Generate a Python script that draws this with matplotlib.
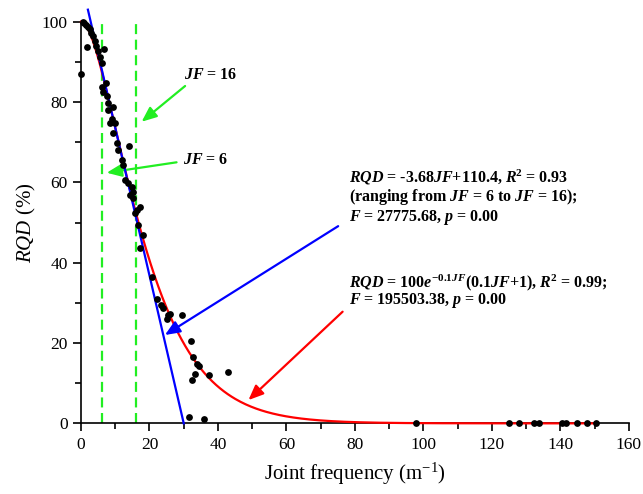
import matplotlib
matplotlib.use("Agg")
import matplotlib.pyplot as plt
import numpy as np

plt.rcParams['font.family'] = ['Liberation Serif', 'DejaVu Serif']
plt.rcParams['mathtext.fontset'] = 'custom'
plt.rcParams['mathtext.rm'] = 'Liberation Serif'
plt.rcParams['mathtext.it'] = 'Liberation Serif:italic'
plt.rcParams['mathtext.bf'] = 'Liberation Serif:bold'
plt.rcParams['mathtext.bfit'] = 'Liberation Serif:italic:bold'

# measured points (joint frequency, RQD)
jf = [0.0, 0.5, 1.0, 1.5, 2.0, 2.5, 3.0, 3.5, 4.0, 4.5, 5.0, 5.5, 6.0,
      1.7, 6.8, 6.2, 7.3, 6.5, 7.5, 8.0, 9.4, 7.8, 9.0, 10.0,
      8.5, 9.4, 10.4, 14.1, 10.9, 11.9, 12.4, 12.9, 13.8, 14.8, 15.3,
      14.3, 15.1, 17.3, 16.3, 15.8, 16.7, 18.2, 17.3,
      20.6, 22.1, 23.5, 24.0, 25.5, 26.0, 25.0, 29.6, 32.0, 32.6, 34.0,
      34.6, 33.3, 32.3, 37.5, 43.0, 31.6, 35.9,
      97.7, 124.9, 127.8, 132.2, 133.7, 140.5, 141.5, 144.9, 147.8, 150.3]
rqd = [87.0, 100.0, 99.8, 99.3, 98.8, 98.2, 97.3, 96.4, 95.3, 94.0, 92.6, 91.2, 89.8,
       93.6, 93.1, 83.7, 84.8, 82.6, 81.5, 79.7, 78.8, 78.0, 75.9, 74.7,
       74.7, 72.2, 69.7, 69.1, 68.0, 65.6, 64.3, 60.6, 59.8, 58.9, 57.7,
       56.8, 56.0, 53.9, 53.1, 52.3, 49.4, 46.9, 43.7,
       36.5, 30.9, 29.5, 28.6, 27.0, 27.2, 26.1, 27.1, 20.5, 16.4, 14.7,
       14.3, 12.4, 10.8, 12.0, 12.9, 1.6, 1.1,
       0.0, 0.0, 0.0, 0.0, 0.0, 0.0, 0.0, 0.0, 0.0, 0.0]

# fitted models shown in the chart
lin_slope, lin_icpt = -3.68, 110.4
exp_a, exp_b = 100.0, 0.1
jf_lines = [6, 16]

fig = plt.figure(figsize=(6.43, 4.94), dpi=100)
ax = fig.add_axes([0.126, 0.143, 0.852, 0.813])

x_fit = np.linspace(0, 150, 400)
ax.plot(x_fit, exp_a * np.exp(-exp_b * x_fit) * (exp_b * x_fit + 1),
        color='red', lw=1.6, zorder=3, clip_on=False)
x_lin = np.array([(103 - lin_icpt) / lin_slope, -lin_icpt / lin_slope])
ax.plot(x_lin, lin_slope * x_lin + lin_icpt, color='blue', lw=1.6, zorder=4, clip_on=False)

green = '#22ee22'
for v in jf_lines:
    ax.plot([v, v], [0, 100], color=green, lw=1.6, ls=(0, (4.5, 2.5)), zorder=2)

ax.scatter(jf, rqd, s=24, color='black', zorder=5, clip_on=False, linewidths=0)

ax.set_xlim(0, 160)
ax.set_ylim(0, 100)
ax.spines['top'].set_visible(False)
ax.spines['right'].set_visible(False)
for s in ['left', 'bottom']:
    ax.spines[s].set_linewidth(1.2)
ax.set_xticks(np.arange(0, 161, 20))
ax.set_xticks(np.arange(10, 160, 10), minor=True)
ax.set_yticks(np.arange(0, 101, 20))
ax.set_yticks(np.arange(10, 100, 20), minor=True)
ax.tick_params(which='major', length=6, width=1.2, labelsize=12.5, direction='out')
ax.tick_params(which='minor', length=4, width=1.2, direction='out')

ax.set_xlabel('Joint frequency (m$^{\\mathregular{-1}}$)', fontsize=15, labelpad=6)
ax.set_ylabel('$\\mathit{RQD}$ (%)', fontsize=15, labelpad=3)

arr = dict(arrowstyle='-|>,head_length=0.9,head_width=0.38', lw=1.6, shrinkA=0, shrinkB=0)
ax.annotate('', xy=(17.7, 75.1), xytext=(30.4, 84.0), arrowprops=dict(arr, color=green))
ax.annotate('', xy=(7.5, 62.4), xytext=(27.9, 65.0), arrowprops=dict(arr, color=green))
ax.annotate('', xy=(24.5, 22.0), xytext=(75.1, 49.1), arrowprops=dict(arr, color='blue'))
ax.annotate('', xy=(48.9, 5.8), xytext=(76.4, 27.8), arrowprops=dict(arr, color='red'))

tk = dict(fontsize=11.5, fontweight='bold', va='center', ha='left')
ax.text(30.2, 86.7, r'$\mathbfit{JF}$ = 16', **tk)
ax.text(29.8, 65.6, r'$\mathbfit{JF}$ = 6', **tk)
ax.text(78.4, 61.3, r'$\mathbfit{RQD}$ = -3.68$\mathbfit{JF}$+110.4, $\mathbfit{R}^{\mathbf{2}}$ = 0.93', **tk)
ax.text(78.4, 56.3, r'(ranging from $\mathbfit{JF}$ = 6 to $\mathbfit{JF}$ = 16);', **tk)
ax.text(78.4, 51.3, r'$\mathbfit{F}$ = 27775.68, $\mathbfit{p}$ = 0.00', **tk)
ax.text(78.4, 35.0, r'$\mathbfit{RQD}$ = 100$\mathbfit{e}^{\mathbf{-0.1}\mathbfit{JF}}$(0.1$\mathbfit{JF}$+1), $\mathbfit{R}^{\mathbf{2}}$ = 0.99;', **tk)
ax.text(78.4, 30.5, r'$\mathbfit{F}$ = 195503.38, $\mathbfit{p}$ = 0.00', **tk)

fig.savefig('out.png', dpi=100)
